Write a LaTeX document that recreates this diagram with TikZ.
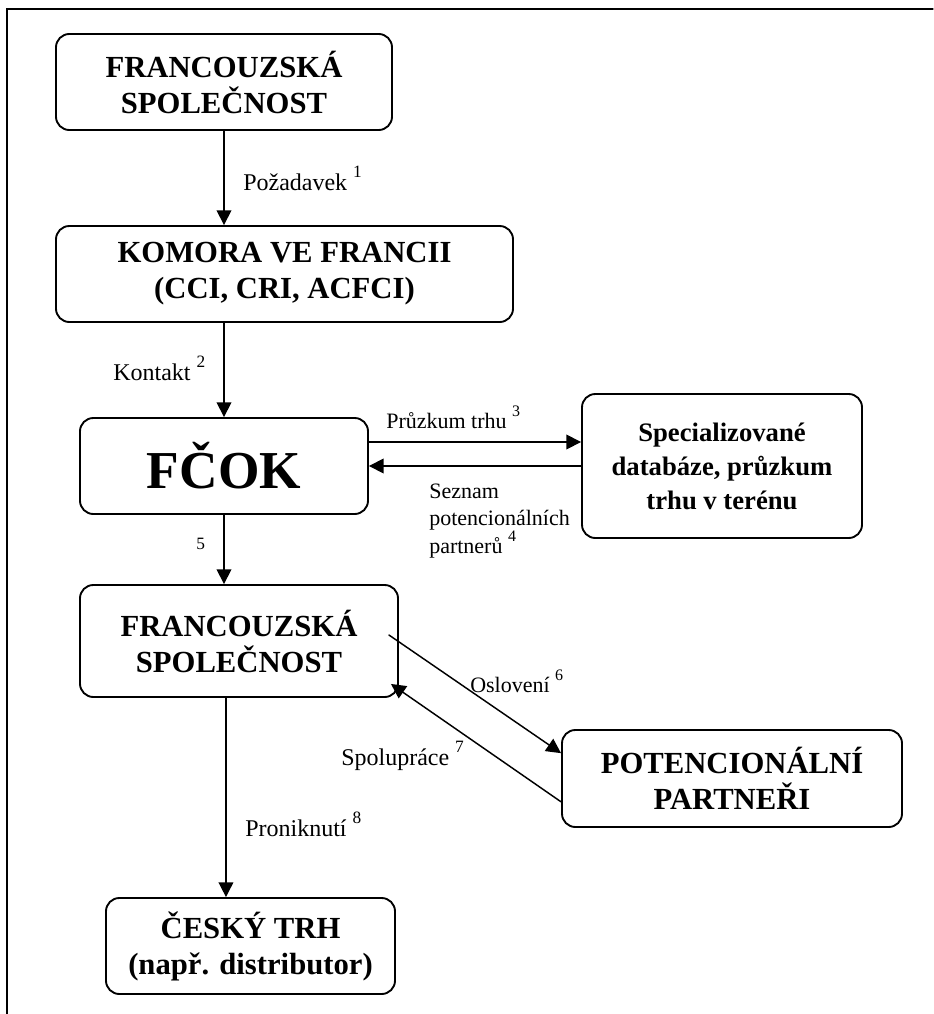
\documentclass[tikz,border=0pt]{standalone}
\usepackage{fontspec}
\setmainfont{Liberation Serif}
\usetikzlibrary{arrows.meta}
\newcommand{\Nr}[1]{\raisebox{9.5pt}{\fontsize{13}{13}\selectfont #1}}
\newcommand{\nr}[1]{\raisebox{8.5pt}{\fontsize{12}{12}\selectfont #1}}

\begin{document}
\begin{tikzpicture}[x=0.75pt,y=-0.75pt,line cap=round]
	\tikzstyle{box}=[draw,line width=1.4pt,rounded corners=10pt,align=center,inner sep=0pt,
	  minimum height=72pt,font=\fontsize{23}{27}\selectfont\bfseries];
	\tikzstyle{lab}=[inner sep=0pt,anchor=base west,font=\fontsize{18}{20}\selectfont];
	\tikzstyle{labs}=[lab,font=\fontsize{16.5}{20.5}\selectfont];
	\tikzstyle{arr}=[line width=1.1pt,-{Triangle[length=11pt,width=11pt]}];
	%%
	\useasboundingbox (0,0) rectangle (933,1014);
	\draw[line width=0.9pt] (7,1014) -- (7,9) -- (933,9);
	%%
	\coordinate (a) at (224,82);
	\coordinate (b) at (284.5,274);
	\coordinate (c) at (224,466);
	\coordinate (d) at (722,466);
	\coordinate (e) at (239,641);
	\coordinate (f) at (732,778.5);
	\coordinate (g) at (250.5,946);
	%%
	\node[box,minimum width=252pt] (A) at (a) {FRANCOUZSKÁ\\SPOLEČNOST};
	\node[box,minimum width=342.75pt] (B) at (b) {KOMORA VE FRANCII\\(CCI, CRI, ACFCI)};
	\node[box,minimum width=216pt,font=\fontsize{40}{44}\selectfont\bfseries] (C) at (c) {FČOK};
	\node[box,minimum width=210pt,minimum height=108pt,font=\fontsize{20}{25.5}\selectfont\bfseries] (D) at (d)
	  {Specializované\\databáze, průzkum\\trhu v terénu};
	\node[box,minimum width=238.5pt,minimum height=84pt] (E) at (e) {FRANCOUZSKÁ\\SPOLEČNOST};
	\node[box,minimum width=255pt,minimum height=72.75pt] (F) at (f) {POTENCIONÁLNÍ\\PARTNEŘI};
	\node[box,minimum width=216.75pt] (G) at (g) {ČESKÝ TRH\\(např. distributor)};
	%%
	\draw[arr] (A.south) -- (A.south |- B.north);
	\draw[arr] (C.north |- B.south) -- (C.north);
	\draw[arr] ([yshift=18pt]C.east) -- ([yshift=18pt]D.west);
	\draw[arr] (D.west) -- (C.east);
	\draw[arr] (C.south) -- (C.south |- E.north);
	\draw[arr] ([xshift=-7.5pt,yshift=4.5pt]E.east) -- ([yshift=19pt]F.west);
	\draw[arr] ([yshift=-17.5pt]F.west) -- ([xshift=-6pt,yshift=10.5pt]E.south east);
	\draw[arr] ([xshift=-18.4pt]G.north |- E.south) -- ([xshift=-18.4pt]G.north);
	%%
	\node[lab] (l1) at (243,190) {Požadavek \Nr{1}};
	\node[lab] (l2) at (113,380) {Kontakt \Nr{2}};
	\node[labs] (l3) at (386,428) {Průzkum trhu \nr{3}};
	\node[labs,align=left] (l4) at (429,553) {Seznam\\potencionálních\\partnerů \nr{4}};
	\node[lab,font=\fontsize{13}{13}\selectfont] (l5) at (196,549) {5};
	\node[labs] (l6) at (470,692) {Oslovení \nr{6}};
	\node[lab] (l7) at (341,765) {Spolupráce \Nr{7}};
	\node[lab] (l8) at (245,836) {Proniknutí \Nr{8}};
\end{tikzpicture}
\end{document}
